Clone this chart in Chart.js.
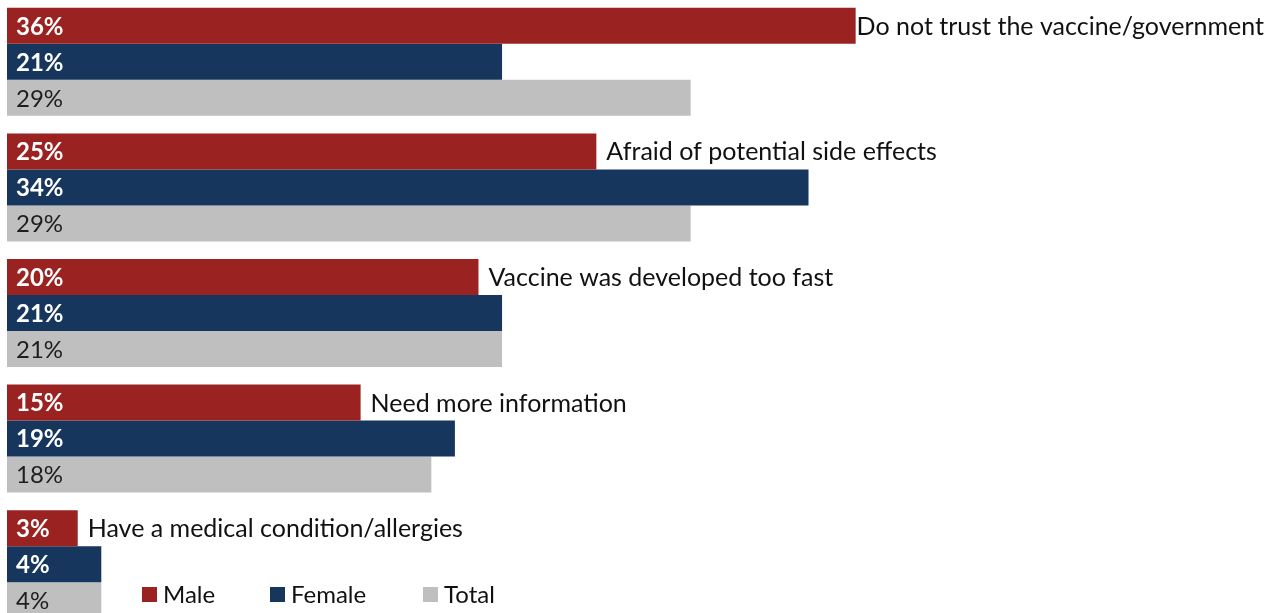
<!DOCTYPE html>
<html>
<head>
<meta charset="utf-8">
<script src="https://cdn.jsdelivr.net/npm/chart.js@4/dist/chart.umd.min.js"></script>
<style>
  html, body { margin: 0; padding: 0; background: #ffffff; overflow: hidden; }
  #wrap { position: absolute; left: 0; top: -1px; width: 1280px; height: 628px; }
</style>
</head>
<body>
<div id="wrap"><canvas id="chart"></canvas></div>
<script>
// Reasons for not wanting the vaccine, by gender (percent)
const categories = [
  'Do not trust the vaccine/government',
  'Afraid of potential side effects',
  'Vaccine was developed too fast',
  'Need more information',
  'Have a medical condition/allergies'
];
const maleValues   = [36, 25, 20, 15, 3];
const femaleValues = [21, 34, 21, 19, 4];
const totalValues  = [29, 29, 21, 18, 4];
const seriesNames  = ['Male', 'Female', 'Total'];

const COLORS = ['#9a2322', '#17365d', '#bfbfbf'];
const FONT = 'Lato, "Open Sans", sans-serif';

// Value inside each bar, category caption to the right of the first bar in each group
const barLabels = {
  id: 'barLabels',
  afterDatasetsDraw(chart) {
    const ctx = chart.ctx;
    ctx.save();
    ctx.textBaseline = 'middle';
    chart.data.datasets.forEach((ds, di) => {
      const meta = chart.getDatasetMeta(di);
      meta.data.forEach((bar, i) => {
        const left = Math.min(bar.base, bar.x);
        if (di < 2) {
          ctx.font = 'bold 24px ' + FONT;
          ctx.fillStyle = '#ffffff';
        } else {
          ctx.font = '24px ' + FONT;
          ctx.fillStyle = '#1e1e1e';
        }
        ctx.textAlign = 'left';
        ctx.fillText(ds.data[i] + '%', left + 9, bar.y + 1);
        if (di === 0) {
          ctx.font = '25px ' + FONT;
          ctx.fillStyle = '#111111';
          const text = chart.data.labels[i];
          const w = ctx.measureText(text).width;
          const x = Math.min(bar.x + 10, chart.width - w - 16);
          ctx.fillText(text, x, bar.y + 1);
        }
      });
    });
    ctx.restore();
  }
};

// Legend row drawn over the lower part of the plot
const inlineLegend = {
  id: 'inlineLegend',
  afterDraw(chart) {
    const ctx = chart.ctx;
    ctx.save();
    ctx.font = '24px ' + FONT;
    ctx.textBaseline = 'middle';
    ctx.textAlign = 'left';
    const xs = [142, 270, 423];
    const cy = 596;
    chart.data.datasets.forEach((ds, di) => {
      ctx.fillStyle = ds.backgroundColor;
      ctx.fillRect(xs[di], cy - 8, 15, 15);
      ctx.fillStyle = '#111111';
      ctx.fillText(ds.label, xs[di] + 21, cy);
    });
    ctx.restore();
  }
};

new Chart(document.getElementById('chart'), {
  type: 'bar',
  data: {
    labels: categories,
    datasets: [
      { label: seriesNames[0], data: maleValues,   backgroundColor: COLORS[0] },
      { label: seriesNames[1], data: femaleValues, backgroundColor: COLORS[1] },
      { label: seriesNames[2], data: totalValues,  backgroundColor: COLORS[2] }
    ]
  },
  options: {
    indexAxis: 'y',
    responsive: true,
    maintainAspectRatio: false,
    animation: false,
    datasets: { bar: { categoryPercentage: 0.86, barPercentage: 1.0, borderWidth: 0 } },
    layout: { padding: { left: 7, right: 0, top: 0, bottom: 0 } },
    scales: {
      x: { display: false, min: 0, max: 54 },
      y: { display: false }
    },
    plugins: {
      legend: { display: false },
      tooltip: { enabled: false }
    }
  },
  plugins: [barLabels, inlineLegend]
});
</script>
</body>
</html>
